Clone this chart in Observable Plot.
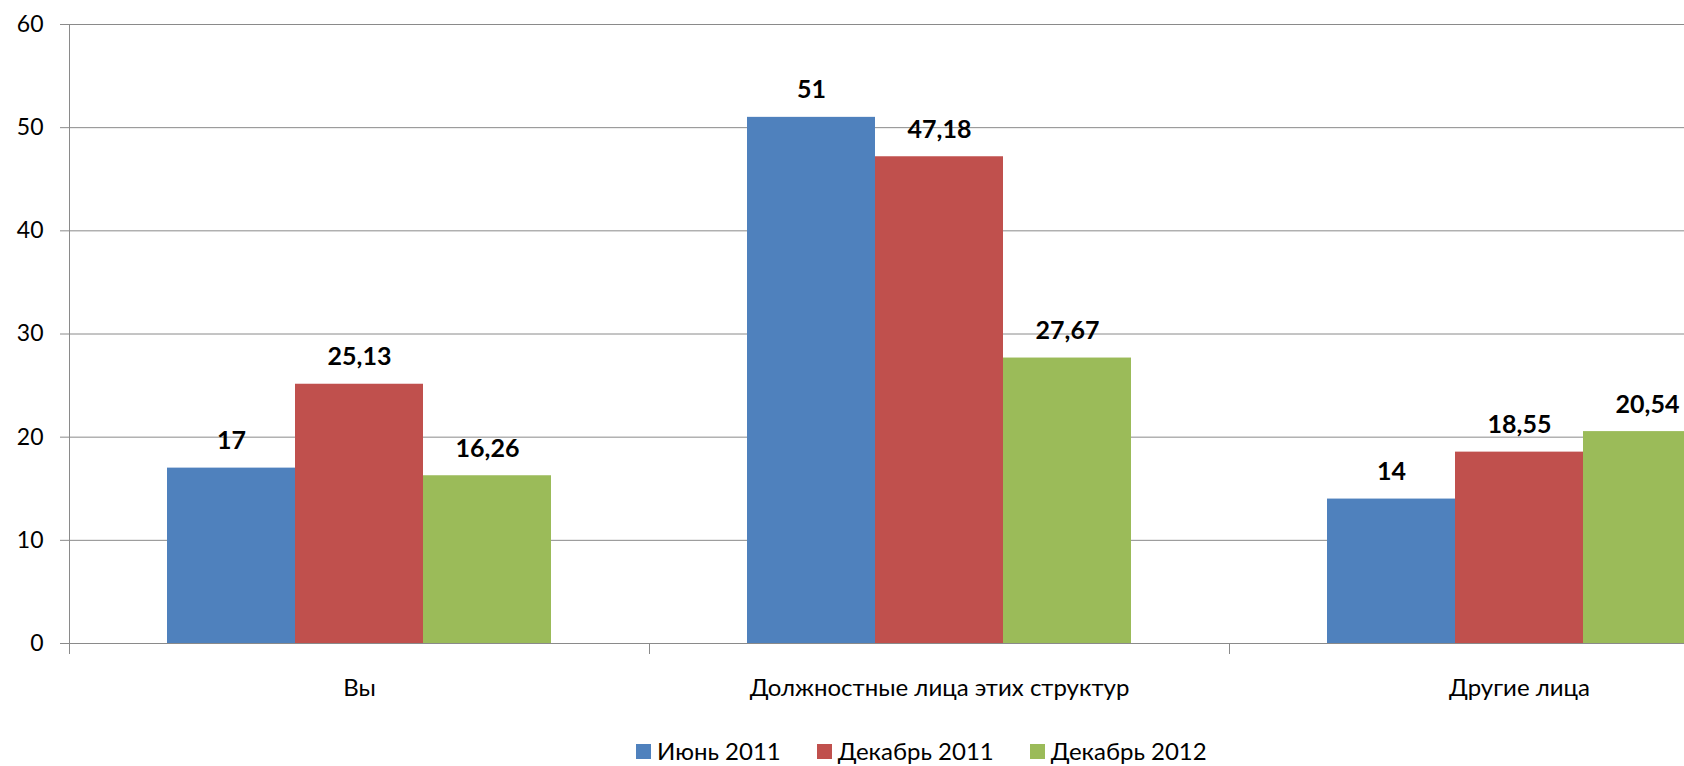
<!DOCTYPE html>
<html>
<head>
<meta charset="utf-8">
<script src="https://cdn.jsdelivr.net/npm/d3@7"></script>
<script src="https://cdn.jsdelivr.net/npm/@observablehq/plot@0.6"></script>
<style>
  html, body { margin: 0; padding: 0; background: #fff; overflow: hidden; }
  #wrap { position: relative; width: 1684px; height: 766px; overflow: hidden; font-family: Lato, sans-serif; }
  #chart { width: 1810px; }
  #chart svg { max-width: none !important; width: 1810px; overflow: hidden; }
  #legend { position: absolute; left: 636px; top: 739px; display: flex; align-items: center; font-size: 24px; color: #000; line-height: 24px; white-space: nowrap; }
  #legend .item { display: flex; align-items: center; margin-right: 36px; }
  #legend .sw { width: 15px; height: 15px; margin-right: 6px; }
</style>
</head>
<body>
<div id="wrap">
  <div id="chart"></div>
  <div id="legend"></div>
</div>
<script>
const categories = ["Вы", "Должностные лица этих структур", "Другие лица"];
const series = ["Июнь 2011", "Декабрь 2011", "Декабрь 2012"];
const colors = ["#4F81BD", "#C0504D", "#9BBB59"];
const june2011 = [17, 51, 14];
const dec2011 = [25.13, 47.18, 18.55];
const dec2012 = [16.26, 27.67, 20.54];
const yTicks = [0, 10, 20, 30, 40, 50, 60];

const valuesBySeries = [june2011, dec2011, dec2012];
const data = [];
categories.forEach((c, i) => {
  series.forEach((s, j) => data.push({category: c, series: s, value: valuesBySeries[j][i]}));
});

const fmt = v => String(v).replace(".", ",");
const H = 720, MT = 24, MB = 77;
const grid = "#8a8a8a";

const chart = Plot.plot({
  width: 1810,
  height: H,
  marginLeft: 69,
  marginRight: 1,
  marginTop: MT,
  marginBottom: MB,
  style: {fontFamily: "Lato, sans-serif", fontSize: "22px", color: "#000", background: "#fff"},
  fx: {domain: categories, padding: 0, label: null},
  x: {domain: series, paddingInner: 0, paddingOuter: 0.75, axis: null},
  y: {domain: [0, 60], label: null},
  color: {domain: series, range: colors},
  marks: [
    Plot.gridY(yTicks, {stroke: grid, strokeOpacity: 1}),
    Plot.frame({anchor: "left", facetAnchor: "left", stroke: grid, strokeOpacity: 1}),
    Plot.frame({anchor: "left", stroke: grid, strokeOpacity: 1, insetTop: H - MT - MB, insetBottom: -10}),
    Plot.axisY(yTicks, {tickSize: 9, tickPadding: 17, stroke: grid, fontSize: 23, fill: "#000", label: null}),
    Plot.axisFx({anchor: "bottom", tickSize: 0, tickPadding: 35, fontSize: 24, fill: "#000", label: null}),
    Plot.barY(data, {fx: "category", x: "series", y: "value", fill: "series"}),
    Plot.ruleY([0], {stroke: grid}),
    Plot.text(data, {fx: "category", x: "series", y: "value", text: d => fmt(d.value), dy: -27, lineAnchor: "middle", fontSize: 25, fontWeight: "bold", fill: "#000"})
  ]
});
document.getElementById("chart").appendChild(chart);

const legend = document.getElementById("legend");
series.forEach((s, j) => {
  const item = document.createElement("div");
  item.className = "item";
  const sw = document.createElement("div");
  sw.className = "sw";
  sw.style.background = colors[j];
  const t = document.createElement("span");
  t.textContent = s;
  item.appendChild(sw);
  item.appendChild(t);
  legend.appendChild(item);
});
</script>
</body>
</html>
